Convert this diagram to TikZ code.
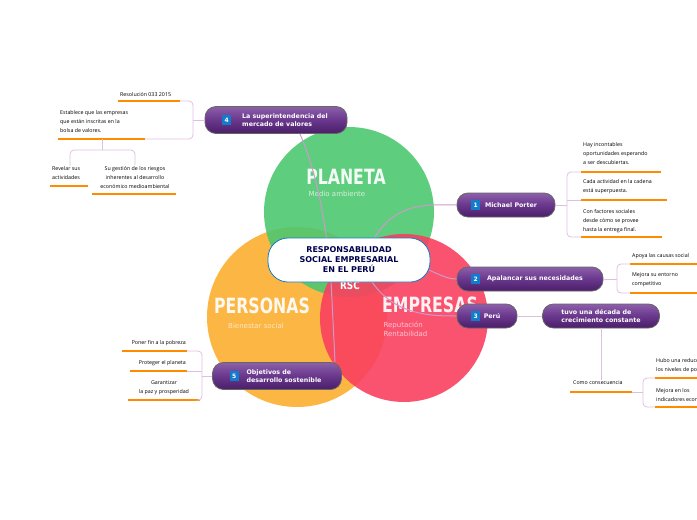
\documentclass[tikz,border=0pt]{standalone}
\usepackage{fontspec}
\setmainfont{DejaVu Sans}
\newfontfamily\leaffont{Open Sans}
\definecolor{ptop}{RGB}{140,95,170}
\definecolor{pmid}{RGB}{105,55,140}
\definecolor{pbot}{RGB}{75,30,105}
\definecolor{cgreen}{RGB}{78,200,112}
\definecolor{corange}{RGB}{251,178,58}
\definecolor{cred}{RGB}{250,64,96}
\begin{document}
\begin{tikzpicture}[x=1pt,y=-1pt,
  topic/.style={draw=black!60,line width=0.8pt,rounded corners=11pt,top color=ptop,bottom color=pbot,middle color=pmid,text=white,font=\bfseries\fontsize{6.3}{7.5}\selectfont,align=left,inner sep=3pt,minimum height=24pt},
  badge/.style={fill=cyan!60!blue,text=white,font=\bfseries\fontsize{6}{6}\selectfont,inner sep=1pt,minimum width=9pt,minimum height=10pt},
  leaf/.style={font=\leaffont\fontsize{5.3}{9}\selectfont,align=left,inner sep=0pt,anchor=north west},
  uline/.style={draw=orange!90!yellow,line width=1.2pt},
  conn/.style={draw=violet!25,line width=0.8pt,rounded corners=4pt},
  curv/.style={draw=violet!40,line width=1pt},
  big/.style={text=white,font=\bfseries\fontsize{21}{21}\selectfont,xscale=0.75,opacity=0.92}]
\useasboundingbox (0,0) rectangle (697,520);
% circles
\fill[corange,opacity=0.95] (297,317) circle (90);
\fill[cgreen,opacity=0.9] (349,212) circle (85);
\fill[cred,opacity=0.9] (404,318) circle (84);
\node[big] (pl) at (346,177) {PLANETA};
\node[text=white!75!cgreen,font=\fontsize{7}{7}\selectfont] (pls) at (337,194) {Medio ambiente};
\node[big] (pe) at (262,306) {PERSONAS};
\node[text=white!70!corange,font=\fontsize{7}{7}\selectfont] (pes) at (256,326) {Bienestar social};
\node[big] (em) at (430,305) {EMPRESAS};
\node[text=white!70!cred,font=\fontsize{7}{9}\selectfont,align=left,anchor=north west] (ems) at (380,318) {Reputación\\Rentabilidad};
\node[text=white,font=\bfseries\fontsize{11}{11}\selectfont,xscale=0.8] (rsc) at (350,285) {RSC};
% curves
\coordinate (c4) at (300,134);
\coordinate (c5) at (335,362);
\draw[curv] (c4) .. controls (320,180) and (325,230) .. (330,262) .. controls (332,300) and (334,340) .. (c5);
% nodes
\node[topic,minimum width=142pt,minimum height=27pt] (n4) at (276,120) {\hspace{18pt}La superintendencia del\\\hspace{18pt}mercado de valores};
\node[badge] at ([xshift=22pt]n4.west) {4};
\node[topic,minimum width=98pt] (n1) at (506,205) {\hspace{10pt}Michael Porter};
\node[badge] at ([xshift=19pt]n1.west) {1};
\node[topic,minimum width=146pt] (n2) at (530,279) {\hspace{10pt}Apalancar sus necesidades};
\node[badge] at ([xshift=19pt]n2.west) {2};
\node[topic,minimum width=60pt,inner sep=1pt] (n3) at (487,316) {\hspace{10pt}Perú};
\node[badge] at ([xshift=19pt]n3.west) {3};
\node[topic,minimum width=117pt] (nt) at (601,316) {tuvo una década de\\crecimiento constante};
\node[topic,minimum width=129pt,minimum height=27pt] (n5) at (277,376) {\hspace{14pt}Objetivos de\\\hspace{14pt}desarrollo sostenible};
\node[badge] at ([xshift=22pt]n5.west) {5};
\draw[curv] (372,242) .. controls (395,200) and (430,205) .. (n1.west);
\draw[curv] (429,270) .. controls (440,275) and (448,279) .. (n2.west);
\draw[curv] (372,282) .. controls (395,315) and (430,316) .. (n3.west);
\node[draw=cyan!60!blue,line width=0.8pt,fill=white,rounded corners=20pt,minimum width=162pt,minimum height=44pt,align=center,text=blue!30!black,font=\bfseries\fontsize{8}{10}\selectfont] (c) at (349,260) {RESPONSABILIDAD\\SOCIAL EMPRESARIAL\\EN EL PERÚ};
\draw[conn] (n3.east) -- (nt.west);
% node 4 leaves
\node[leaf] (l41) at (120,92) {Resolución 033 2015};
\draw[uline] (118,101) -- (180,101);
\node[leaf] (l42) at (60,110) {Establece que las empresas\\que están inscritas en la\\bolsa de valores.};
\draw[uline] (58,139) -- (145,139);
\draw[conn] (n4.west) -- (193,120);
\draw[conn] (180,101) -| (193,139) -- (145,139);
\draw[conn] (102,139) -- (102,150);
\draw[conn] (70,166) -- (70,150) -- (135,150) -- (135,165);
\node[leaf] (l43) at (52,166) {Revelar sus\\actividades};
\draw[uline] (50,186) -- (88,186);
\node[leaf,align=center,anchor=north] (l44) at (135,166) {Su gestión de los riesgos\\inherentes al desarrollo\\económico medioambiental};
\draw[uline] (92,194) -- (176,194);
% node 1 leaves
\node[leaf] (l11) at (583,142) {Hay incontables\\oportunidades esperando\\a ser descubiertas.};
\draw[uline] (581,172) -- (661,172);
\node[leaf] (l12) at (583,179) {Cada actividad en la cadena\\está superpuesta.};
\draw[uline] (581,200) -- (667,200);
\node[leaf] (l13) at (583,209) {Con factores sociales\\desde cómo se provee\\hasta la entrega final.};
\draw[uline] (581,237) -- (662,237);
\draw[conn] (n1.east) -- (567,205);
\draw[conn] (581,172) -| (567,237) -- (581,237);
\draw[conn] (567,200) -- (581,200);
% node 2 leaves
\node[leaf] (l21) at (632,253) {Apoya las causas social};
\draw[uline] (630,264) -- (697,264);
\node[leaf] (l22) at (632,272) {Mejora su entorno\\competitivo};
\draw[uline] (630,293) -- (697,293);
\draw[conn] (n2.east) -- (617,279);
\draw[conn] (630,264) -| (617,293) -- (630,293);
% tuvo leaves
\draw[conn] (nt.south) -- (601,380);
\node[leaf] (l31) at (573,380) {Como consecuencia};
\draw[uline] (570,392) -- (632,392);
\draw[conn] (632,392) -- (643,392);
\draw[conn] (656,378) -| (643,407) -- (656,407);
\node[leaf] (l32) at (656,358) {Hubo una reducción en\\los niveles de pobreza};
\draw[uline] (655,378) -- (697,378);
\node[leaf] (l33) at (656,388) {Mejora en los\\indicadores económicos};
\draw[uline] (655,407) -- (697,407);
% node 5 leaves
\node[leaf,anchor=north east] (l51) at (186,340) {Poner fin a la pobreza};
\draw[uline] (122,351) -- (187,351);
\node[leaf,anchor=north east] (l52) at (186,360) {Proteger el planeta};
\draw[uline] (130,371) -- (187,371);
\node[leaf,align=center,anchor=north] (l53) at (164,380) {Garantizar\\la paz y prosperidad};
\draw[uline] (128,400) -- (200,400);
\draw[conn] (n5.west) -- (202,376);
\draw[conn] (187,351) -| (202,400) -- (200,400);
\draw[conn] (187,371) -- (202,371);
\end{tikzpicture}
\end{document}
